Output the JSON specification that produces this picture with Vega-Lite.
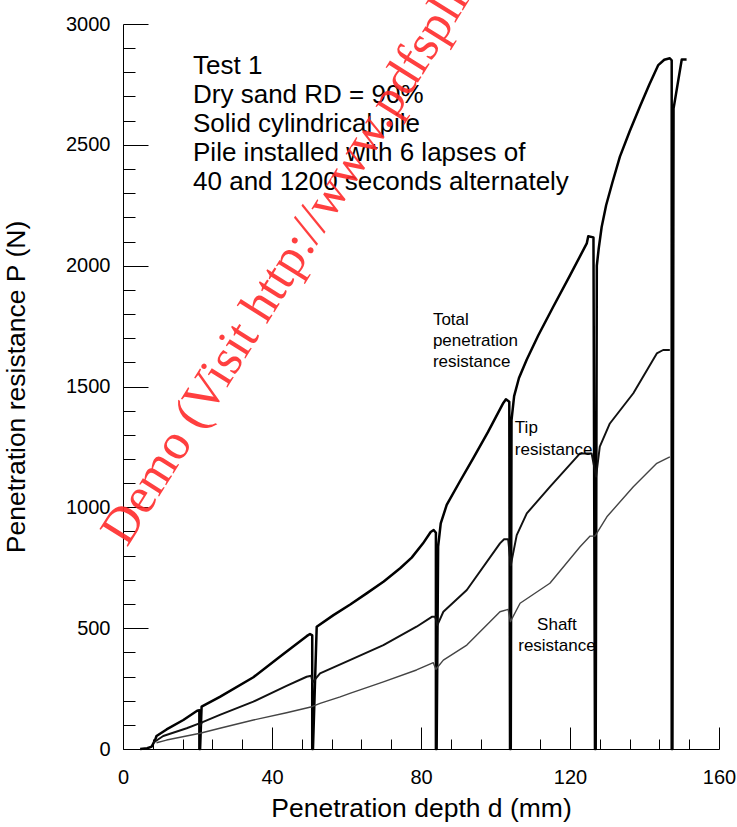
{
  "$schema": "https://vega.github.io/schema/vega-lite/v6.json",
  "width": 596,
  "height": 725,
  "autosize": {"type": "none"},
  "padding": {"left": 123, "top": 24, "right": 18, "bottom": 78},
  "config": {
    "view": {"stroke": null},
    "font": "Liberation Sans",
    "axis": {"grid": false, "domainColor": "#000", "tickColor": "#000", "labelColor": "#000", "titleColor": "#000", "titleFontWeight": "normal", "labelFont": "Liberation Sans", "titleFont": "Liberation Sans", "labelOverlap": false}
  },
  "datasets": {
    "curves": [
      {"s": "Total", "i": 1, "d": 4.6, "P": 0},
      {"s": "Total", "i": 2, "d": 6.5, "P": 3},
      {"s": "Total", "i": 3, "d": 7.7, "P": 10},
      {"s": "Total", "i": 4, "d": 8.6, "P": 37},
      {"s": "Total", "i": 5, "d": 9.0, "P": 54},
      {"s": "Total", "i": 6, "d": 11.7, "P": 81},
      {"s": "Total", "i": 7, "d": 16.2, "P": 120},
      {"s": "Total", "i": 8, "d": 19.9, "P": 158},
      {"s": "Total", "i": 9, "d": 20.5, "P": 160},
      {"s": "Total", "i": 10, "d": 20.5, "P": 0},
      {"s": "Total", "i": 11, "d": 20.7, "P": 0},
      {"s": "Total", "i": 12, "d": 21.1, "P": 175},
      {"s": "Total", "i": 13, "d": 26, "P": 216},
      {"s": "Total", "i": 14, "d": 35, "P": 297},
      {"s": "Total", "i": 15, "d": 42.1, "P": 382},
      {"s": "Total", "i": 16, "d": 49.3, "P": 467},
      {"s": "Total", "i": 17, "d": 50.2, "P": 476},
      {"s": "Total", "i": 18, "d": 50.8, "P": 470},
      {"s": "Total", "i": 19, "d": 50.8, "P": 0},
      {"s": "Total", "i": 20, "d": 51.0, "P": 0},
      {"s": "Total", "i": 21, "d": 52, "P": 506},
      {"s": "Total", "i": 22, "d": 56.5, "P": 554},
      {"s": "Total", "i": 23, "d": 61, "P": 598},
      {"s": "Total", "i": 24, "d": 65.4, "P": 644},
      {"s": "Total", "i": 25, "d": 70, "P": 693},
      {"s": "Total", "i": 26, "d": 74.4, "P": 748},
      {"s": "Total", "i": 27, "d": 77.5, "P": 792},
      {"s": "Total", "i": 28, "d": 80.5, "P": 850},
      {"s": "Total", "i": 29, "d": 82.6, "P": 898},
      {"s": "Total", "i": 30, "d": 83.4, "P": 906},
      {"s": "Total", "i": 31, "d": 84.0, "P": 895},
      {"s": "Total", "i": 32, "d": 84.0, "P": 0},
      {"s": "Total", "i": 33, "d": 84.2, "P": 0},
      {"s": "Total", "i": 34, "d": 84.6, "P": 837},
      {"s": "Total", "i": 35, "d": 85.3, "P": 934},
      {"s": "Total", "i": 36, "d": 86.9, "P": 1010},
      {"s": "Total", "i": 37, "d": 90.5, "P": 1109},
      {"s": "Total", "i": 38, "d": 94, "P": 1203},
      {"s": "Total", "i": 39, "d": 98, "P": 1312},
      {"s": "Total", "i": 40, "d": 102.1, "P": 1432},
      {"s": "Total", "i": 41, "d": 102.8, "P": 1447},
      {"s": "Total", "i": 42, "d": 103.7, "P": 1437},
      {"s": "Total", "i": 43, "d": 103.9, "P": 0},
      {"s": "Total", "i": 44, "d": 104.1, "P": 0},
      {"s": "Total", "i": 45, "d": 104.3, "P": 1361},
      {"s": "Total", "i": 46, "d": 105.0, "P": 1460},
      {"s": "Total", "i": 47, "d": 106.3, "P": 1535},
      {"s": "Total", "i": 48, "d": 108.4, "P": 1612},
      {"s": "Total", "i": 49, "d": 111.5, "P": 1712},
      {"s": "Total", "i": 50, "d": 115.5, "P": 1830},
      {"s": "Total", "i": 51, "d": 120, "P": 1960},
      {"s": "Total", "i": 52, "d": 124.5, "P": 2092},
      {"s": "Total", "i": 53, "d": 124.9, "P": 2122},
      {"s": "Total", "i": 54, "d": 126.3, "P": 2117},
      {"s": "Total", "i": 55, "d": 126.7, "P": 0},
      {"s": "Total", "i": 56, "d": 126.9, "P": 0},
      {"s": "Total", "i": 57, "d": 127.2, "P": 2000},
      {"s": "Total", "i": 58, "d": 127.7, "P": 2070},
      {"s": "Total", "i": 59, "d": 128.5, "P": 2160},
      {"s": "Total", "i": 60, "d": 129.7, "P": 2250},
      {"s": "Total", "i": 61, "d": 131.4, "P": 2345},
      {"s": "Total", "i": 62, "d": 133.4, "P": 2451},
      {"s": "Total", "i": 63, "d": 136, "P": 2555},
      {"s": "Total", "i": 64, "d": 138.8, "P": 2660},
      {"s": "Total", "i": 65, "d": 141.3, "P": 2750},
      {"s": "Total", "i": 66, "d": 143.7, "P": 2830},
      {"s": "Total", "i": 67, "d": 145.3, "P": 2852},
      {"s": "Total", "i": 68, "d": 146.8, "P": 2858},
      {"s": "Total", "i": 69, "d": 147.3, "P": 2850},
      {"s": "Total", "i": 70, "d": 147.3, "P": 0},
      {"s": "Total", "i": 71, "d": 147.5, "P": 0},
      {"s": "Total", "i": 72, "d": 147.8, "P": 2650},
      {"s": "Total", "i": 73, "d": 150, "P": 2853},
      {"s": "Total", "i": 74, "d": 151.3, "P": 2853},
      {"s": "Tip", "i": 1, "d": 8.1, "P": 26},
      {"s": "Tip", "i": 2, "d": 10.8, "P": 54},
      {"s": "Tip", "i": 3, "d": 17.1, "P": 86},
      {"s": "Tip", "i": 4, "d": 20.5, "P": 106},
      {"s": "Tip", "i": 5, "d": 20.7, "P": 96},
      {"s": "Tip", "i": 6, "d": 21.2, "P": 110},
      {"s": "Tip", "i": 7, "d": 26, "P": 141},
      {"s": "Tip", "i": 8, "d": 35, "P": 196},
      {"s": "Tip", "i": 9, "d": 43.9, "P": 261},
      {"s": "Tip", "i": 10, "d": 49.3, "P": 299},
      {"s": "Tip", "i": 11, "d": 50.5, "P": 303},
      {"s": "Tip", "i": 12, "d": 50.9, "P": 276},
      {"s": "Tip", "i": 13, "d": 52.9, "P": 313},
      {"s": "Tip", "i": 14, "d": 60.9, "P": 368},
      {"s": "Tip", "i": 15, "d": 69.9, "P": 430},
      {"s": "Tip", "i": 16, "d": 78.8, "P": 506},
      {"s": "Tip", "i": 17, "d": 82.9, "P": 547},
      {"s": "Tip", "i": 18, "d": 83.8, "P": 547},
      {"s": "Tip", "i": 19, "d": 84.4, "P": 513},
      {"s": "Tip", "i": 20, "d": 86, "P": 568},
      {"s": "Tip", "i": 21, "d": 92.3, "P": 658},
      {"s": "Tip", "i": 22, "d": 101.2, "P": 851},
      {"s": "Tip", "i": 23, "d": 102.3, "P": 868},
      {"s": "Tip", "i": 24, "d": 103.4, "P": 868},
      {"s": "Tip", "i": 25, "d": 104.1, "P": 760},
      {"s": "Tip", "i": 26, "d": 105.7, "P": 885},
      {"s": "Tip", "i": 27, "d": 108.4, "P": 975},
      {"s": "Tip", "i": 28, "d": 114.6, "P": 1085},
      {"s": "Tip", "i": 29, "d": 122.7, "P": 1223},
      {"s": "Tip", "i": 30, "d": 125.8, "P": 1223},
      {"s": "Tip", "i": 31, "d": 127, "P": 1127},
      {"s": "Tip", "i": 32, "d": 128, "P": 1251},
      {"s": "Tip", "i": 33, "d": 130.7, "P": 1347},
      {"s": "Tip", "i": 34, "d": 137, "P": 1472},
      {"s": "Tip", "i": 35, "d": 143.3, "P": 1637},
      {"s": "Tip", "i": 36, "d": 145, "P": 1651},
      {"s": "Tip", "i": 37, "d": 146.8, "P": 1651},
      {"s": "Shaft", "i": 1, "d": 9, "P": 26},
      {"s": "Shaft", "i": 2, "d": 11.7, "P": 37},
      {"s": "Shaft", "i": 3, "d": 20.7, "P": 65},
      {"s": "Shaft", "i": 4, "d": 26, "P": 86},
      {"s": "Shaft", "i": 5, "d": 35, "P": 120},
      {"s": "Shaft", "i": 6, "d": 43.9, "P": 150},
      {"s": "Shaft", "i": 7, "d": 50.7, "P": 175},
      {"s": "Shaft", "i": 8, "d": 52.9, "P": 189},
      {"s": "Shaft", "i": 9, "d": 58.3, "P": 216},
      {"s": "Shaft", "i": 10, "d": 60.9, "P": 230},
      {"s": "Shaft", "i": 11, "d": 69.9, "P": 278},
      {"s": "Shaft", "i": 12, "d": 78.8, "P": 327},
      {"s": "Shaft", "i": 13, "d": 83.3, "P": 357},
      {"s": "Shaft", "i": 14, "d": 84, "P": 330},
      {"s": "Shaft", "i": 15, "d": 86, "P": 368},
      {"s": "Shaft", "i": 16, "d": 92.3, "P": 430},
      {"s": "Shaft", "i": 17, "d": 101.2, "P": 568},
      {"s": "Shaft", "i": 18, "d": 103.4, "P": 578},
      {"s": "Shaft", "i": 19, "d": 104, "P": 527},
      {"s": "Shaft", "i": 20, "d": 106.6, "P": 603},
      {"s": "Shaft", "i": 21, "d": 114.6, "P": 686},
      {"s": "Shaft", "i": 22, "d": 122.7, "P": 837},
      {"s": "Shaft", "i": 23, "d": 125.4, "P": 881},
      {"s": "Shaft", "i": 24, "d": 126.7, "P": 881},
      {"s": "Shaft", "i": 25, "d": 129.9, "P": 961},
      {"s": "Shaft", "i": 26, "d": 137, "P": 1085},
      {"s": "Shaft", "i": 27, "d": 143.3, "P": 1182},
      {"s": "Shaft", "i": 28, "d": 146.8, "P": 1209}
    ],
    "block": [
      {"text": "Test 1", "d": 18.8, "P": 2825},
      {"text": "Dry sand RD = 90%", "d": 18.8, "P": 2705},
      {"text": "Solid cylindrical pile", "d": 18.8, "P": 2585},
      {"text": "Pile installed with 6 lapses of", "d": 18.8, "P": 2465},
      {"text": "40 and 1200 seconds alternately", "d": 18.8, "P": 2345}
    ],
    "labelsLeft": [
      {"text": "Total", "d": 83.2, "P": 1775},
      {"text": "penetration", "d": 83.2, "P": 1688},
      {"text": "resistance", "d": 83.2, "P": 1601},
      {"text": "Tip", "d": 105.2, "P": 1328},
      {"text": "resistance", "d": 105.2, "P": 1237}
    ],
    "labelsCenter": [
      {"text": "Shaft", "d": 116.5, "P": 513},
      {"text": "resistance", "d": 116.5, "P": 426}
    ],
    "mark": [
      {"text": "Demo (Visit http://www.pdfsplitmerger.com)", "d": 1.1, "P": 832}
    ]
  },
  "layer": [
    {
      "data": {"name": "curves"},
      "mark": {"type": "line", "strokeJoin": "round"},
      "encoding": {
        "x": {
          "field": "d", "type": "quantitative",
          "scale": {"domain": [0, 160], "nice": false},
          "axis": {
            "values": [0, 8, 16, 24, 32, 40, 48, 56, 64, 72, 80, 88, 96, 104, 112, 120, 128, 136, 144, 152, 160],
            "tickCount": 100,
            "labelExpr": "(datum.value % 40 == 0) ? datum.label : ''",
            "labelOverlap": false,
            "tickSize": {"condition": {"test": "datum.value % 40 === 0", "value": -22}, "value": -10},
            "labelPadding": 40,
            "labelFontSize": 20,
            "labelFlush": false,
            "title": "Penetration depth  d (mm)",
            "titleFontSize": 26.5,
            "titlePadding": -4
          }
        },
        "y": {
          "field": "P", "type": "quantitative",
          "scale": {"domain": [0, 3000], "nice": false},
          "axis": {
            "values": [0, 100, 200, 300, 400, 500, 600, 700, 800, 900, 1000, 1100, 1200, 1300, 1400, 1500, 1600, 1700, 1800, 1900, 2000, 2100, 2200, 2300, 2400, 2500, 2600, 2700, 2800, 2900, 3000],
            "tickCount": 100,
            "labelExpr": "(datum.value % 500 == 0) ? format(datum.value, 'd') : ''",
            "labelOverlap": false,
            "tickSize": {"condition": {"test": "datum.value % 500 === 0", "value": -25}, "value": -12},
            "labelPadding": 38,
            "labelFontSize": 20,
            "labelFlush": false,
            "title": "Penetration resistance P (N)",
            "titleFontSize": 26.5,
            "titlePadding": 35
          }
        },
        "detail": {"field": "s"},
        "order": {"field": "i", "type": "quantitative"},
        "color": {"field": "s", "type": "nominal", "scale": {"domain": ["Total", "Tip", "Shaft"], "range": ["#000000", "#111111", "#444444"]}, "legend": null},
        "strokeWidth": {"field": "s", "type": "nominal", "scale": {"domain": ["Total", "Tip", "Shaft"], "range": [2.5, 1.4, 0.9]}, "legend": null}
      }
    },
    {
      "data": {"name": "block"},
      "mark": {"type": "text", "align": "left", "baseline": "middle", "fontSize": 26, "font": "Liberation Sans", "color": "#000"},
      "encoding": {
        "x": {"field": "d", "type": "quantitative"},
        "y": {"field": "P", "type": "quantitative"},
        "text": {"field": "text"}
      }
    },
    {
      "data": {"name": "labelsLeft"},
      "mark": {"type": "text", "align": "left", "baseline": "middle", "fontSize": 17, "font": "Liberation Sans", "color": "#000"},
      "encoding": {
        "x": {"field": "d", "type": "quantitative"},
        "y": {"field": "P", "type": "quantitative"},
        "text": {"field": "text"}
      }
    },
    {
      "data": {"name": "labelsCenter"},
      "mark": {"type": "text", "align": "center", "baseline": "middle", "fontSize": 17, "font": "Liberation Sans", "color": "#000"},
      "encoding": {
        "x": {"field": "d", "type": "quantitative"},
        "y": {"field": "P", "type": "quantitative"},
        "text": {"field": "text"}
      }
    },
    {
      "data": {"name": "mark"},
      "mark": {"type": "text", "align": "left", "baseline": "alphabetic", "fontSize": 51, "font": "Liberation Serif", "color": "#ff2b2b", "opacity": 0.9, "angle": 302},
      "encoding": {
        "x": {"field": "d", "type": "quantitative"},
        "y": {"field": "P", "type": "quantitative"},
        "text": {"field": "text"}
      }
    }
  ]
}
